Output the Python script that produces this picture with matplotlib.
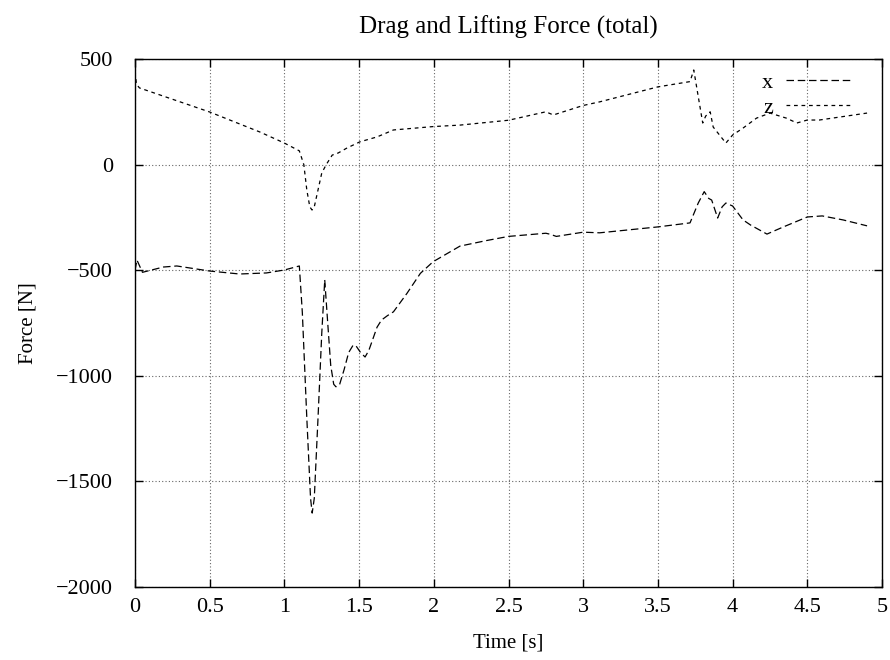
import matplotlib.pyplot as plt

# drag force (x) over time
t_x = [0.0, 0.013, 0.05, 0.19, 0.28, 0.5, 0.7, 0.88, 1.0, 1.10,
       1.12, 1.15, 1.175, 1.186, 1.20, 1.225, 1.25, 1.27, 1.29, 1.31,
       1.33, 1.345, 1.37, 1.40, 1.43, 1.46, 1.48, 1.51, 1.54, 1.565,
       1.59, 1.62, 1.65, 1.69, 1.73, 1.82, 1.91, 1.995, 2.175, 2.35,
       2.5, 2.75, 2.78, 2.82, 3.0, 3.11, 3.5, 3.715, 3.77, 3.81,
       3.84, 3.86, 3.90, 3.93, 3.955, 4.0, 4.07, 4.12, 4.23, 4.34,
       4.5, 4.6, 4.74, 4.9]
force_x = [-500, -452, -510, -485, -480, -504, -518, -513, -499, -480,
           -700, -1200, -1580, -1650, -1580, -1200, -800, -546, -750, -950,
           -1040, -1052, -1040, -970, -890, -855, -859, -890, -911, -880,
           -830, -770, -736, -715, -697, -610, -515, -460, -386, -360,
           -340, -325, -330, -340, -320, -323, -295, -276, -182, -128,
           -160, -168, -253, -200, -182, -196, -262, -286, -329, -295,
           -248, -243, -262, -290]

# lifting force (z) over time
t_z = [0.0, 0.01, 0.03, 0.5, 0.837, 1.0, 1.10, 1.13, 1.15, 1.17,
       1.185, 1.20, 1.225, 1.25, 1.28, 1.32, 1.36, 1.42, 1.506, 1.62,
       1.73, 1.995, 2.175, 2.5, 2.75, 2.8, 3.0, 3.11, 3.5, 3.715,
       3.74, 3.80, 3.82, 3.85, 3.87, 3.955, 4.0, 4.07, 4.16, 4.25,
       4.36, 4.43, 4.5, 4.58, 4.9]
force_z = [440, 380, 363, 249, 154, 102, 65, 0, -120, -200,
           -215, -200, -120, -40, 0, 45, 55, 79, 108, 131,
           164, 180, 187, 210, 250, 235, 280, 297, 368, 393,
           448, 197, 230, 250, 178, 102, 140, 173, 220, 244,
           220, 197, 211, 211, 244]

plt.rcParams['font.family'] = ['Liberation Serif', 'DejaVu Serif']
plt.rcParams['font.size'] = 15

fig = plt.figure(figsize=(8.9, 6.6), dpi=100)
ax = fig.add_axes([135 / 890, 1 - 587 / 660, 747 / 890, 528 / 660])

ax.plot(t_x, force_x, color='black', lw=0.9, ls=(0, (6, 3)), label='x')
ax.plot(t_z, force_z, color='black', lw=0.9, ls=(0, (3, 3)), label='z')

ax.set_xlim(0, 5)
ax.set_ylim(-2000, 500)
ax.set_xticks([0, 0.5, 1, 1.5, 2, 2.5, 3, 3.5, 4, 4.5, 5])
ax.set_xticklabels(['0', '0.5', '1', '1.5', '2', '2.5', '3', '3.5', '4', '4.5', '5'])
ax.set_yticks([-2000, -1500, -1000, -500, 0, 500])

ax.grid(True, color='#666666', ls=(0, (1, 2)), lw=0.8)
ax.tick_params(direction='in', top=True, right=True, length=6, width=1,
               labelsize=16)
ax.tick_params(axis='x', pad=8)
ax.tick_params(axis='y', pad=16)
for s in ax.spines.values():
    s.set_linewidth(1.0)

ax.set_xlabel('Time [s]', labelpad=12)
ax.set_ylabel('Force [N]', labelpad=13)
ax.set_title('Drag and Lifting Force (total)', pad=18)

leg = ax.legend(loc='upper right', bbox_to_anchor=(1.0, 1.03), frameon=False,
                markerfirst=False, handlelength=3.0, handletextpad=0.6,
                borderaxespad=0.9, labelspacing=0.2, fontsize=16)

fig.savefig('out.png', dpi=100)
